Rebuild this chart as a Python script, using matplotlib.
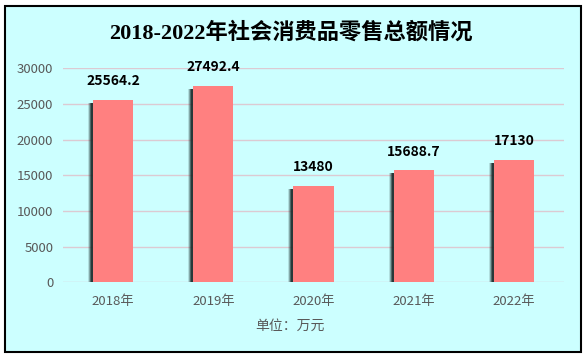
import matplotlib
matplotlib.use("Agg")
import matplotlib.pyplot as plt
from matplotlib.patches import Rectangle

years = ["2018年", "2019年", "2020年", "2021年", "2022年"]
sales = [25564.2, 27492.4, 13480, 15688.7, 17130]
yticks = [0, 5000, 10000, 15000, 20000, 25000, 30000]

plt.rcParams["font.family"] = ["Noto Sans CJK SC", "DejaVu Sans"]

W, H = 588, 357
fig = plt.figure(figsize=(W / 100, H / 100), dpi=100, facecolor="white")

# light cyan panel with black frame, kept behind the axes
frame = Rectangle((5 / W, 5.5 / H), 576 / W, 345.5 / H,
                  transform=fig.transFigure, facecolor="#ccffff",
                  edgecolor="black", linewidth=1.5, zorder=-10)
fig.patches.append(frame)

ax = fig.add_axes([63 / W, 74.7 / H, 501 / W, 214 / H])
ax.set_facecolor("none")
ax.set_zorder(1)

x = range(len(years))
bw = 0.4

# soft dark shadow on the left side of each bar
drop = 420
for off, a in [(0.05, 0.15), (0.04, 0.3), (0.03, 0.5), (0.02, 0.75)]:
    ax.bar([i - off for i in x], [v - drop for v in sales], width=bw,
           color="#1a2a2a", alpha=a, linewidth=0, zorder=2)

ax.bar(x, sales, width=bw, color="#ff8080", linewidth=0, zorder=3)

for i, v in zip(x, sales):
    ax.annotate(f"{v:g}", (i, v), xytext=(0, 13.5), textcoords="offset points",
                ha="center", va="center", fontsize=10, fontweight="bold",
                color="black", zorder=4)

ax.set_xlim(-0.5, len(years) - 0.5)
ax.set_ylim(0, 30000)
ax.set_yticks(yticks)
ax.set_xticks(list(x))
ax.set_xticklabels(years)
ax.yaxis.grid(True, color="#dccad2", linewidth=1)
ax.set_axisbelow(True)
for s in ax.spines.values():
    s.set_visible(False)
ax.tick_params(axis="both", length=0, labelsize=9.5, colors="#595959")
ax.tick_params(axis="y", pad=7)
ax.tick_params(axis="x", pad=9)

fig.text(291 / W, 1 - 33 / H, "2018-2022年社会消费品零售总额情况",
         ha="center", va="center", fontsize=16, fontweight="bold",
         family=["Liberation Serif", "Noto Sans CJK SC"], color="black")
fig.text(290 / W, 1 - 326 / H, "单位：万元", ha="center", va="center",
         fontsize=10, color="#595959")

fig.savefig("out.png", dpi=100, facecolor="white")
